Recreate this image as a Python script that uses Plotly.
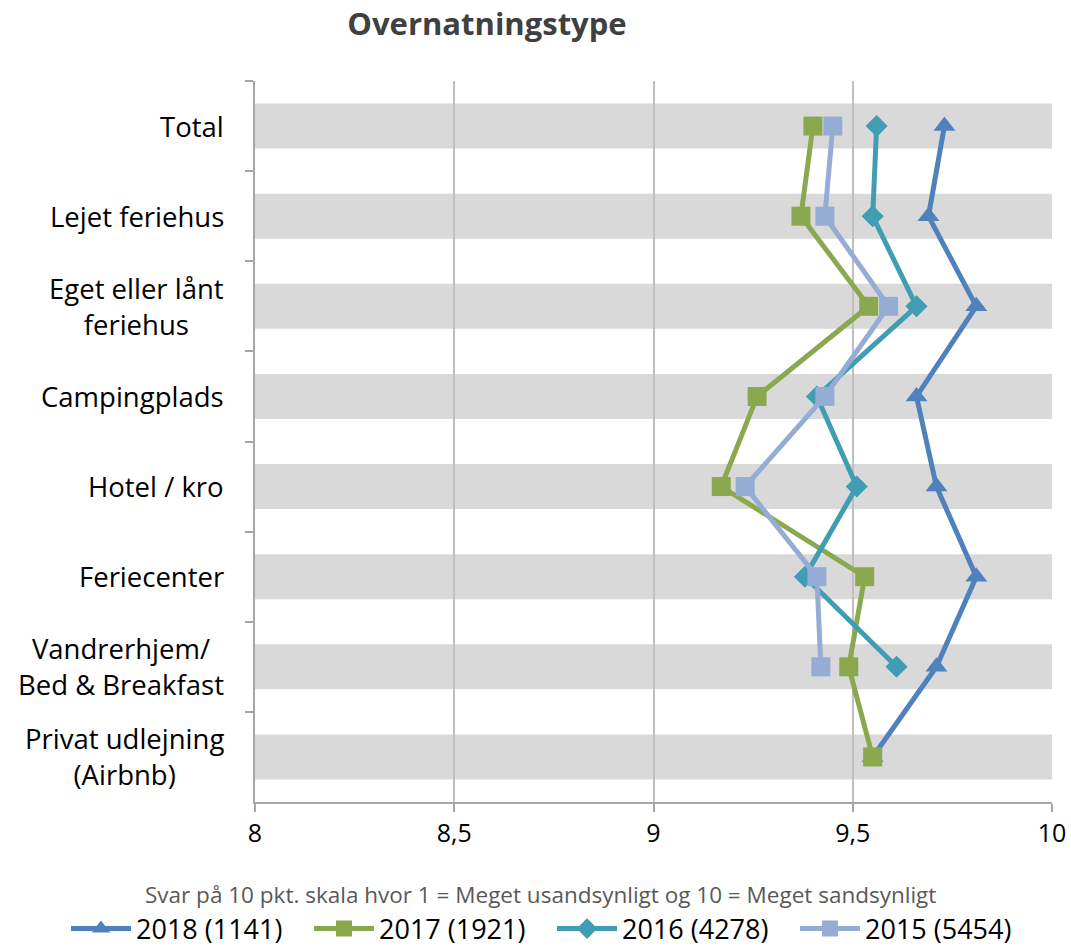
import plotly.graph_objects as go

categories = ["Total", "Lejet feriehus", "Eget eller lånt feriehus", "Campingplads",
              "Hotel / kro", "Feriecenter", "Vandrerhjem/ Bed & Breakfast",
              "Privat udlejning (Airbnb)"]
cat_labels = ["Total", "Lejet feriehus", "Eget eller lånt<br>feriehus", "Campingplads",
              "Hotel / kro", "Feriecenter", "Vandrerhjem/<br>Bed & Breakfast",
              "Privat udlejning<br>(Airbnb)"]

v2018 = [9.73, 9.69, 9.81, 9.66, 9.71, 9.81, 9.71, 9.55]
v2017 = [9.40, 9.37, 9.54, 9.26, 9.17, 9.53, 9.49, 9.55]
v2016 = [9.56, 9.55, 9.66, 9.41, 9.51, 9.38, 9.61, None]
v2015 = [9.45, 9.43, 9.59, 9.43, 9.23, 9.41, 9.42, None]

series = [
    ("2018 (1141)", v2018, "#4f81bd", "triangle-up"),
    ("2017 (1921)", v2017, "#8aa84e", "square"),
    ("2016 (4278)", v2016, "#419db3", "diamond"),
    ("2015 (5454)", v2015, "#95acd4", "square"),
]

xticks = [8, 8.5, 9, 9.5, 10]
xticktext = ["8", "8,5", "9", "9,5", "10"]

FONT = "Open Sans"

W, H = 1071, 946
ML, MR = 19, 19
MT = 81
MB = H - 802
PW = W - ML - MR
PH = H - MT - MB


def px_x(p):
    return (p - ML) / PW


def px_y(p):
    return (H - MB - p) / PH


fig = go.Figure()
for name, vals, color, sym in series:
    fig.add_trace(go.Scatter(
        x=vals, y=categories, name=name, mode="lines+markers",
        line=dict(color=color, width=5),
        marker=dict(symbol=sym, size=19 if sym != "diamond" else 17, color=color),
        connectgaps=False,
    ))

# gray bands
for i in range(len(categories)):
    fig.add_shape(type="rect", xref="x", yref="y", x0=8, x1=10, y0=i - 0.25, y1=i + 0.25,
                  fillcolor="#d9d9d9", line=dict(width=0), layer="below")

for c, lab in zip(categories, cat_labels):
    fig.add_annotation(x=px_x(226), xref="paper", y=c, yref="y", text=lab, showarrow=False,
                       xanchor="right", yanchor="middle", align="center",
                       font=dict(family=FONT, size=27.5, color="#000000"))

fig.add_annotation(x=px_x(540), xref="paper", y=px_y(894), yref="paper",
                   text="Svar på 10 pkt. skala hvor 1 = Meget usandsynligt og 10 = Meget sandsynligt",
                   showarrow=False, xanchor="center", yanchor="middle",
                   font=dict(family=FONT, size=22.5, color="#595959"))

fig.update_layout(
    width=W, height=H,
    margin=dict(l=ML, r=MR, t=MT, b=MB, autoexpand=False),
    paper_bgcolor="white", plot_bgcolor="white",
    title=dict(text="<b>Overnatningstype</b>", x=487 / W, xanchor="center",
               y=1 - 24 / H, yanchor="middle",
               font=dict(family=FONT, size=31, color="#404040")),
    font=dict(family=FONT, size=26, color="#000000"),
    showlegend=True,
    legend=dict(orientation="h", xref="paper", yref="paper",
                x=px_x(552), xanchor="center", y=px_y(929), yanchor="middle",
                font=dict(family=FONT, size=27, color="#000000"),
                itemwidth=60, traceorder="normal", bgcolor="rgba(0,0,0,0)",
                entrywidth=168, entrywidthmode="pixels",
                tracegroupgap=0),
    xaxis=dict(domain=[px_x(255), 1], range=[8, 10], tickvals=xticks, ticktext=xticktext,
               showgrid=True, gridcolor="#bfbfbf", gridwidth=1.5,
               showline=True, linecolor="#a6a6a6", linewidth=2,
               ticks="outside", ticklen=8, tickcolor="#a6a6a6", tickwidth=1.5,
               tickfont=dict(family=FONT, size=25, color="#000000"),
               zeroline=False, fixedrange=True, automargin=False),
    yaxis=dict(type="category", categoryorder="array", categoryarray=categories,
               range=[7.5, -0.5], showticklabels=False, tickson="boundaries",
               ticks="outside", ticklen=8, tickcolor="#a6a6a6", tickwidth=1.5,
               showline=True, linecolor="#a6a6a6", linewidth=2, showgrid=False,
               zeroline=False, fixedrange=True, automargin=False),
)

fig.write_html(
    "out.html",
    config={"displayModeBar": False},
    post_script="document.body.style.margin='0px';"
                "document.documentElement.style.overflow='hidden';"
                "document.body.style.overflow='hidden';",
)
